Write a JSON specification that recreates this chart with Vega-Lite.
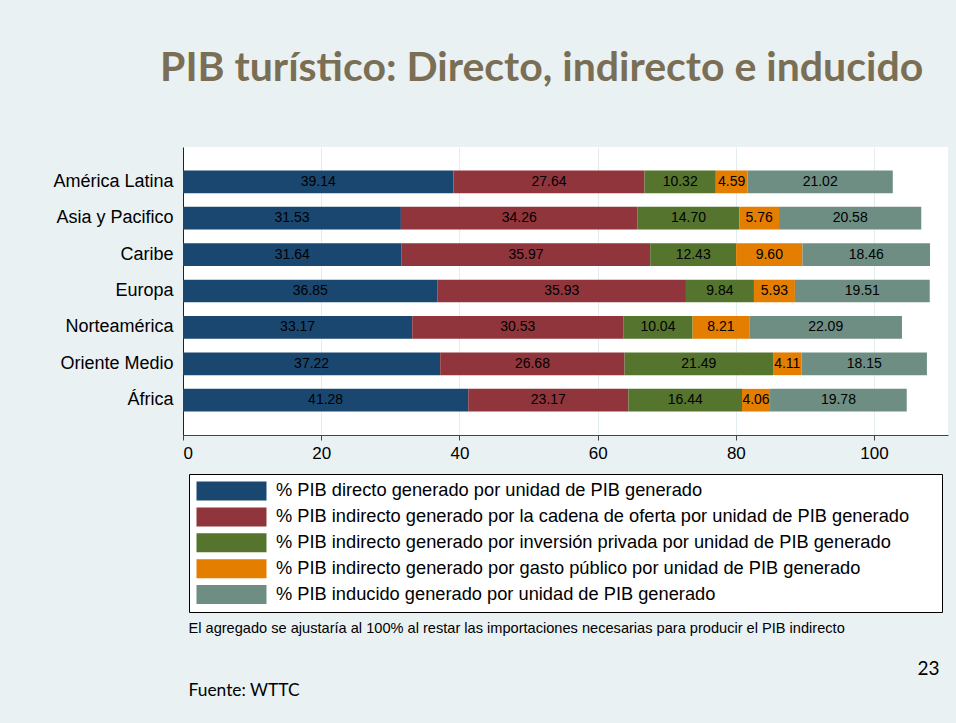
{
  "$schema": "https://vega.github.io/schema/vega-lite/v6.json",
  "autosize": {"type": "none"},
  "padding": {"left": 183, "top": 147, "right": 8, "bottom": 288},
  "width": 765,
  "height": 288,
  "background": "#e9f1f3",
  "title": {
    "text": "PIB turístico: Directo, indirecto e inducido",
    "anchor": "start",
    "frame": "group",
    "dx": -23,
    "offset": 25,
    "baseline": "alphabetic",
    "font": "Lato",
    "fontWeight": "bold",
    "fontSize": 41,
    "color": "#7a6e55"
  },
  "data": {
    "values": [
      {"region": "América Latina", "serie": "% PIB directo generado por unidad de PIB generado", "i": 1, "v": 39.14},
      {"region": "América Latina", "serie": "% PIB indirecto generado por la cadena de oferta por unidad de PIB generado", "i": 2, "v": 27.64},
      {"region": "América Latina", "serie": "% PIB indirecto generado por inversión privada por unidad de PIB generado", "i": 3, "v": 10.32},
      {"region": "América Latina", "serie": "% PIB indirecto generado por gasto público por unidad de PIB generado", "i": 4, "v": 4.59},
      {"region": "América Latina", "serie": "% PIB inducido generado por unidad de PIB generado", "i": 5, "v": 21.02},
      {"region": "Asia y Pacifico", "serie": "% PIB directo generado por unidad de PIB generado", "i": 1, "v": 31.53},
      {"region": "Asia y Pacifico", "serie": "% PIB indirecto generado por la cadena de oferta por unidad de PIB generado", "i": 2, "v": 34.26},
      {"region": "Asia y Pacifico", "serie": "% PIB indirecto generado por inversión privada por unidad de PIB generado", "i": 3, "v": 14.70},
      {"region": "Asia y Pacifico", "serie": "% PIB indirecto generado por gasto público por unidad de PIB generado", "i": 4, "v": 5.76},
      {"region": "Asia y Pacifico", "serie": "% PIB inducido generado por unidad de PIB generado", "i": 5, "v": 20.58},
      {"region": "Caribe", "serie": "% PIB directo generado por unidad de PIB generado", "i": 1, "v": 31.64},
      {"region": "Caribe", "serie": "% PIB indirecto generado por la cadena de oferta por unidad de PIB generado", "i": 2, "v": 35.97},
      {"region": "Caribe", "serie": "% PIB indirecto generado por inversión privada por unidad de PIB generado", "i": 3, "v": 12.43},
      {"region": "Caribe", "serie": "% PIB indirecto generado por gasto público por unidad de PIB generado", "i": 4, "v": 9.60},
      {"region": "Caribe", "serie": "% PIB inducido generado por unidad de PIB generado", "i": 5, "v": 18.46},
      {"region": "Europa", "serie": "% PIB directo generado por unidad de PIB generado", "i": 1, "v": 36.85},
      {"region": "Europa", "serie": "% PIB indirecto generado por la cadena de oferta por unidad de PIB generado", "i": 2, "v": 35.93},
      {"region": "Europa", "serie": "% PIB indirecto generado por inversión privada por unidad de PIB generado", "i": 3, "v": 9.84},
      {"region": "Europa", "serie": "% PIB indirecto generado por gasto público por unidad de PIB generado", "i": 4, "v": 5.93},
      {"region": "Europa", "serie": "% PIB inducido generado por unidad de PIB generado", "i": 5, "v": 19.51},
      {"region": "Norteamérica", "serie": "% PIB directo generado por unidad de PIB generado", "i": 1, "v": 33.17},
      {"region": "Norteamérica", "serie": "% PIB indirecto generado por la cadena de oferta por unidad de PIB generado", "i": 2, "v": 30.53},
      {"region": "Norteamérica", "serie": "% PIB indirecto generado por inversión privada por unidad de PIB generado", "i": 3, "v": 10.04},
      {"region": "Norteamérica", "serie": "% PIB indirecto generado por gasto público por unidad de PIB generado", "i": 4, "v": 8.21},
      {"region": "Norteamérica", "serie": "% PIB inducido generado por unidad de PIB generado", "i": 5, "v": 22.09},
      {"region": "Oriente Medio", "serie": "% PIB directo generado por unidad de PIB generado", "i": 1, "v": 37.22},
      {"region": "Oriente Medio", "serie": "% PIB indirecto generado por la cadena de oferta por unidad de PIB generado", "i": 2, "v": 26.68},
      {"region": "Oriente Medio", "serie": "% PIB indirecto generado por inversión privada por unidad de PIB generado", "i": 3, "v": 21.49},
      {"region": "Oriente Medio", "serie": "% PIB indirecto generado por gasto público por unidad de PIB generado", "i": 4, "v": 4.11},
      {"region": "Oriente Medio", "serie": "% PIB inducido generado por unidad de PIB generado", "i": 5, "v": 18.15},
      {"region": "África", "serie": "% PIB directo generado por unidad de PIB generado", "i": 1, "v": 41.28},
      {"region": "África", "serie": "% PIB indirecto generado por la cadena de oferta por unidad de PIB generado", "i": 2, "v": 23.17},
      {"region": "África", "serie": "% PIB indirecto generado por inversión privada por unidad de PIB generado", "i": 3, "v": 16.44},
      {"region": "África", "serie": "% PIB indirecto generado por gasto público por unidad de PIB generado", "i": 4, "v": 4.06},
      {"region": "África", "serie": "% PIB inducido generado por unidad de PIB generado", "i": 5, "v": 19.78}
    ]
  },
  "layer": [
    {
      "mark": {"type": "bar"},
      "encoding": {
        "y": {
          "field": "region", "type": "nominal",
          "sort": ["América Latina", "Asia y Pacifico", "Caribe", "Europa", "Norteamérica", "Oriente Medio", "África"],
          "scale": {"paddingInner": 0.376, "paddingOuter": 0.644},
          "axis": {
            "orient": "left",
            "title": "Fuente: WTTC",
            "titleAngle": 0,
            "titleX": 5,
            "titleY": 543,
            "titleAlign": "left",
            "titleBaseline": "middle",
            "titleFont": "Lato",
            "titleFontSize": 17.4,
            "titleFontWeight": "normal",
            "titleColor": "black",
            "labelFont": "Liberation Sans",
            "labelFontSize": 18,
            "labelColor": "black",
            "labelPadding": 10,
            "ticks": false,
            "domainColor": "#222222",
            "domainWidth": 1,
            "grid": false
          }
        },
        "x": {
          "field": "v", "type": "quantitative", "stack": "zero",
          "scale": {"domain": [0, 110.7], "nice": false},
          "axis": {
            "values": [0, 20, 40, 60, 80, 100],
            "title": "El agregado se ajustaría al 100% al restar las importaciones necesarias para producir el PIB indirecto",
            "titleX": 5,
            "titleY": 193,
            "titleAnchor": "start",
            "titleAlign": "left",
            "titleBaseline": "middle",
            "titleFont": "Liberation Sans",
            "titleFontSize": 14.6,
            "titleFontWeight": "normal",
            "titleColor": "black",
            "labelFont": "Liberation Sans",
            "labelFontSize": 17,
            "labelColor": "black",
            "labelPadding": 5,
            "tickSize": 5,
            "tickColor": "#444444",
            "domainColor": "#444444",
            "grid": true,
            "gridColor": "#e3ecef",
            "gridWidth": 1
          }
        },
        "color": {
          "field": "serie", "type": "nominal",
          "scale": {
            "domain": [
              "% PIB directo generado por unidad de PIB generado",
              "% PIB indirecto generado por la cadena de oferta por unidad de PIB generado",
              "% PIB indirecto generado por inversión privada por unidad de PIB generado",
              "% PIB indirecto generado por gasto público por unidad de PIB generado",
              "% PIB inducido generado por unidad de PIB generado"
            ],
            "range": ["#1a476f", "#90353b", "#55752f", "#e37e00", "#6e8e84"]
          },
          "legend": {
            "orient": "none",
            "legendX": 6,
            "legendY": 327,
            "title": null,
            "symbolType": "M-3.684,-1H3.684V1H-3.684Z",
            "symbolSize": 361,
            "symbolStrokeWidth": 0,
            "symbolOffset": 25.5,
            "labelOffset": 35,
            "rowPadding": 5.9,
            "padding": 7.5,
            "strokeColor": "black",
            "fillColor": "white",
            "labelFont": "Liberation Sans",
            "labelFontSize": 18.25,
            "labelColor": "black",
            "labelLimit": 0,
            "labelExpr": "datum.label + '\u00a0\u00a0\u00a0\u00a0\u00a0\u200b'"
          }
        },
        "order": {"field": "i", "type": "quantitative"}
      }
    },
    {
      "mark": {"type": "text", "font": "Liberation Sans", "fontSize": 14, "color": "black", "baseline": "middle", "align": "center"},
      "encoding": {
        "y": {
          "field": "region", "type": "nominal",
          "sort": ["América Latina", "Asia y Pacifico", "Caribe", "Europa", "Norteamérica", "Oriente Medio", "África"],
          "axis": {
            "orient": "right",
            "title": "23",
            "titleAngle": 0,
            "titleX": -20,
            "titleY": 521,
            "titleAlign": "center",
            "titleBaseline": "middle",
            "titleFont": "Lato",
            "titleFontSize": 19,
            "titleFontWeight": "normal",
            "titleColor": "black",
            "labels": false,
            "ticks": false,
            "domain": false,
            "grid": false
          }
        },
        "x": {"field": "v", "type": "quantitative", "stack": "zero", "bandPosition": 0.5},
        "detail": {"field": "serie", "type": "nominal"},
        "order": {"field": "i", "type": "quantitative"},
        "text": {"field": "v", "type": "quantitative", "format": ".2f"}
      }
    }
  ],
  "resolve": {"axis": {"y": "independent"}},
  "config": {
    "view": {"fill": "white", "stroke": null}
  }
}
